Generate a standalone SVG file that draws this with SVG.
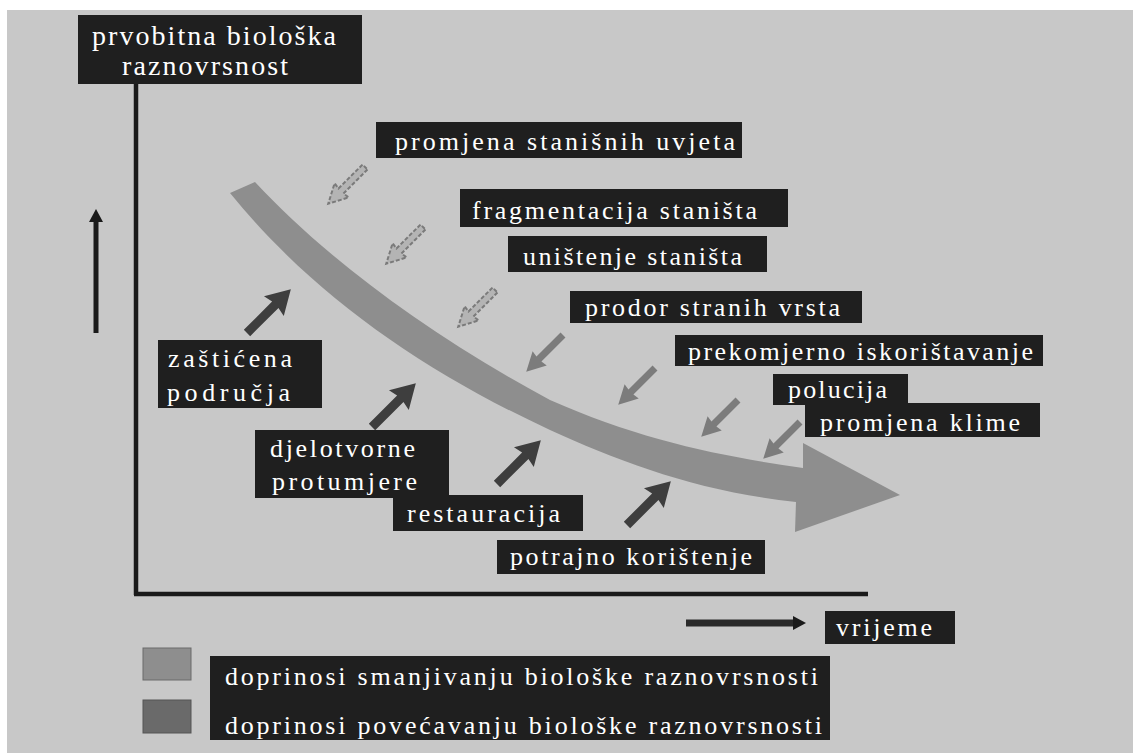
<svg xmlns="http://www.w3.org/2000/svg" xmlns:xlink="http://www.w3.org/1999/xlink" width="1133" height="753" viewBox="0 0 1133 753">
<style>
.box{fill:#1f1f1f}
.t{font-family:"Liberation Serif","DejaVu Serif",serif;fill:#ffffff;font-size:26px}
.tl{font-size:28px}
.axis{stroke:#1a1a1a;stroke-width:4.5;fill:none}
.neg{fill:#7c7c7c}
.negh{fill:#b4b4b4;stroke:#7a7a7a;stroke-width:2;stroke-dasharray:4 2}
.pos{fill:#3e3e3e}
</style>
<defs>
<path id="na" d="M0,-3.5 L34,-3.5 L33,-10 L52,0 L33,10 L34,3.5 L0,3.5 Z"/>
<path id="pa" d="M0,-4.5 L40,-4.5 L38,-14 L62,0 L38,14 L40,4.5 L0,4.5 Z"/>
<marker id="ah" markerWidth="13" markerHeight="14" refX="2" refY="7" orient="auto" markerUnits="userSpaceOnUse"><path d="M0,0 L13,7 L0,14 Z" fill="#1a1a1a"/></marker>
</defs>
<rect width="1133" height="753" fill="#ffffff"/>
<rect x="7" y="10" width="1126" height="743" fill="#c8c8c8"/>

<g id="connectors">
<line class="axis" x1="136" y1="84" x2="136" y2="595"/>
<line class="axis" x1="134" y1="594" x2="868" y2="594"/>
<line x1="96" y1="333" x2="96" y2="220" stroke="#1a1a1a" stroke-width="5" marker-end="url(#ah)"/>
<line x1="686" y1="623" x2="795" y2="623" stroke="#2a2a2a" stroke-width="7" marker-end="url(#ah)"/>
<path d="M255,182 C320,252 420,330 550,400 C640,440 720,456 803,468 L803,443 L900,495 L795,532 L796,502 C700,492 620,462 550,430 C420,370 310,292 230,193 Z" fill="#8e8e8e"/>
<use href="#na" class="negh" transform="translate(365,167) rotate(135)"/>
<use href="#na" class="negh" transform="translate(423,227) rotate(135)"/>
<use href="#na" class="negh" transform="translate(495,290) rotate(135)"/>
<use href="#na" class="neg" transform="translate(563,335) rotate(135)"/>
<use href="#na" class="neg" transform="translate(655,368) rotate(135)"/>
<use href="#na" class="neg" transform="translate(738,400) rotate(135)"/>
<use href="#na" class="neg" transform="translate(800,422) rotate(135)"/>
<use href="#pa" class="pos" transform="translate(247,333) rotate(-45)"/>
<use href="#pa" class="pos" transform="translate(372,427) rotate(-45)"/>
<use href="#pa" class="pos" transform="translate(497,484) rotate(-45)"/>
<use href="#pa" class="pos" transform="translate(627,525) rotate(-45)"/>
</g>

<g id="n-ylabel"><rect class="box" x="78" y="15" width="284" height="69"/>
<text class="t tl" x="92" y="45" textLength="244" lengthAdjust="spacing">prvobitna biološka</text>
<text class="t tl" x="122" y="75" textLength="166" lengthAdjust="spacing">raznovrsnost</text></g>

<g id="n-promjena-uvjeta"><rect class="box" x="376" y="122" width="366" height="36"/>
<text class="t" x="395" y="150" textLength="340" lengthAdjust="spacing">promjena stanišnih uvjeta</text></g>

<g id="n-fragmentacija"><rect class="box" x="460" y="189" width="328" height="38"/>
<text class="t" x="472" y="219" textLength="285" lengthAdjust="spacing">fragmentacija staništa</text></g>

<g id="n-unistenje"><rect class="box" x="508" y="236" width="259" height="36"/>
<text class="t" x="523" y="265" textLength="219" lengthAdjust="spacing">uništenje staništa</text></g>

<g id="n-prodor"><rect class="box" x="570" y="291" width="292" height="32"/>
<text class="t" x="585" y="316" textLength="255" lengthAdjust="spacing">prodor stranih vrsta</text></g>

<g id="n-prekomjerno"><rect class="box" x="675" y="335" width="368" height="31"/>
<text class="t" x="688" y="360" textLength="345" lengthAdjust="spacing">prekomjerno iskorištavanje</text></g>

<g id="n-polucija"><rect class="box" x="773" y="374" width="135" height="31"/>
<text class="t" x="788" y="398" textLength="99" lengthAdjust="spacing">polucija</text></g>

<g id="n-klime"><rect class="box" x="805" y="403" width="235" height="34"/>
<text class="t" x="820" y="431" textLength="200" lengthAdjust="spacing">promjena klime</text></g>

<g id="n-zasticena"><rect class="box" x="158" y="340" width="164" height="68"/>
<text class="t" x="168" y="367" textLength="124" lengthAdjust="spacing">zaštićena</text>
<text class="t" x="167" y="401" textLength="123" lengthAdjust="spacing">područja</text></g>

<g id="n-djelotvorne"><rect class="box" x="255" y="430" width="194" height="68"/>
<text class="t" x="270" y="457" textLength="145" lengthAdjust="spacing">djelotvorne</text>
<text class="t" x="272" y="490" textLength="145" lengthAdjust="spacing">protumjere</text></g>

<g id="n-restauracija"><rect class="box" x="393" y="495" width="190" height="36"/>
<text class="t" x="407" y="522" textLength="153" lengthAdjust="spacing">restauracija</text></g>

<g id="n-potrajno"><rect class="box" x="497" y="540" width="268" height="34"/>
<text class="t" x="510" y="565" textLength="242" lengthAdjust="spacing">potrajno korištenje</text></g>

<g id="n-vrijeme"><rect class="box" x="825" y="611" width="130" height="33"/>
<text class="t" x="836" y="636" textLength="96" lengthAdjust="spacing">vrijeme</text></g>

<g id="legend">
<rect x="143" y="648" width="48" height="32" fill="#8e8e8e" stroke="#6a6a6a" stroke-width="1"/>
<rect x="143" y="700" width="48" height="33" fill="#6a6a6a" stroke="#555" stroke-width="1"/>
<rect class="box" x="210" y="656" width="620" height="84"/>
<text class="t" x="225" y="685" textLength="593" lengthAdjust="spacing">doprinosi smanjivanju biološke raznovrsnosti</text>
<text class="t" x="225" y="734" textLength="597" lengthAdjust="spacing">doprinosi povećavanju biološke raznovrsnosti</text>
</g>
</svg>
